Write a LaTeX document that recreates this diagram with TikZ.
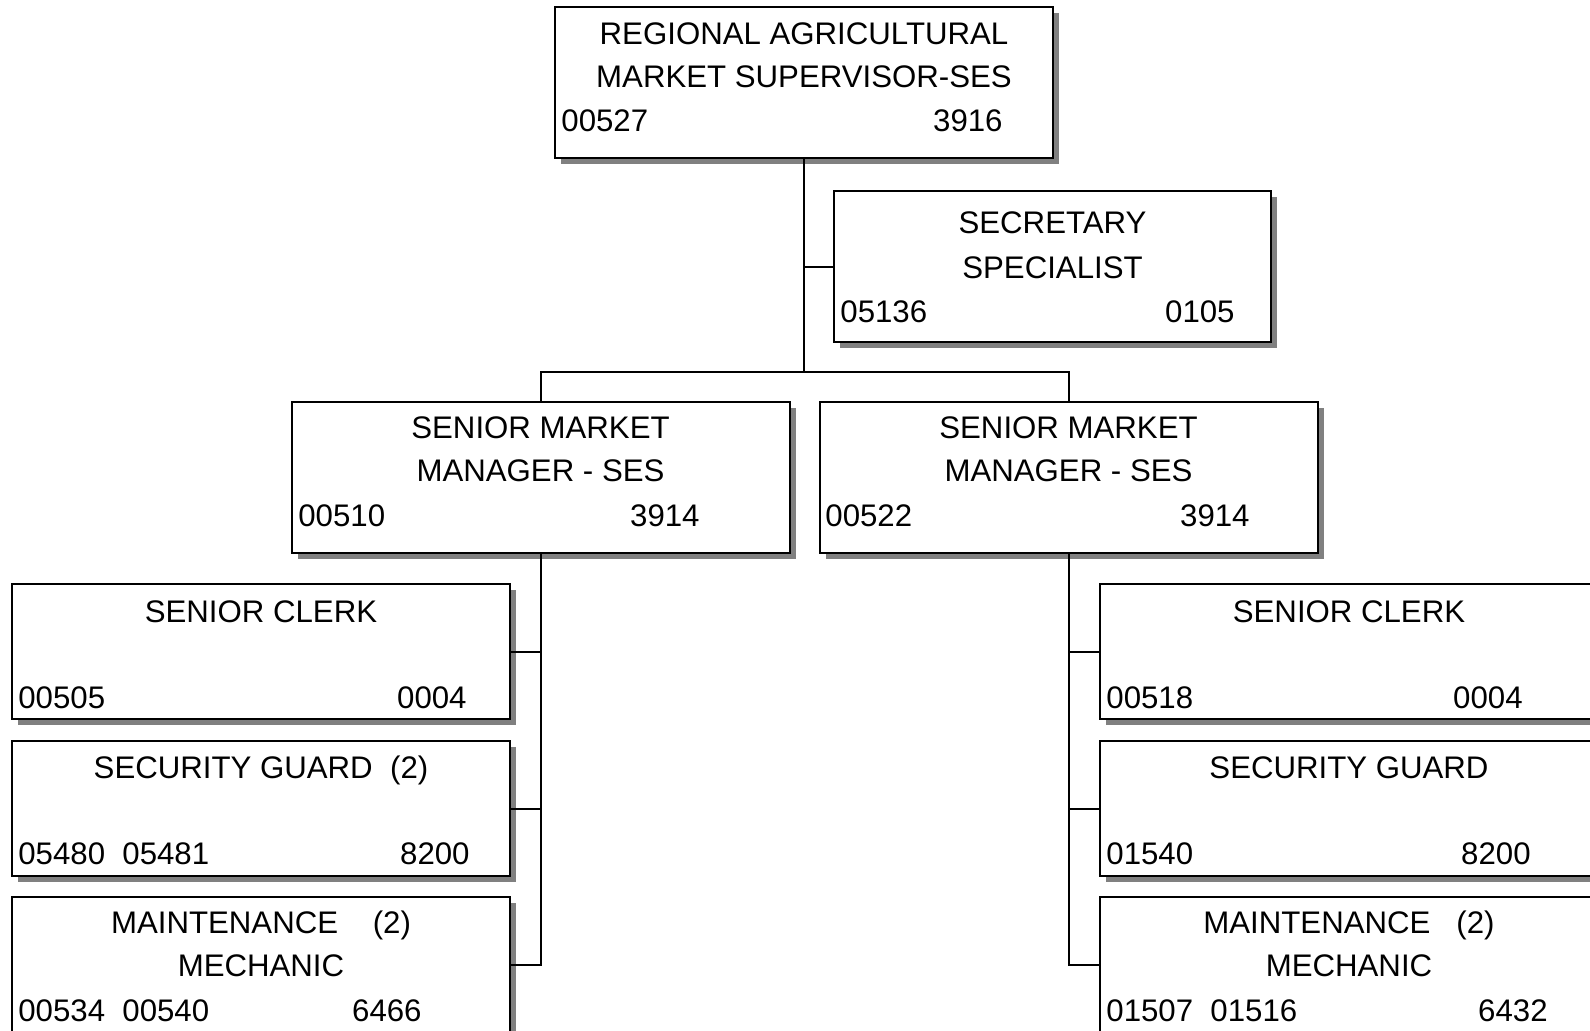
\documentclass[tikz,border=0pt]{standalone}
\usepackage{fontspec}
\setmainfont{Liberation Sans}
\usetikzlibrary{shadows}

\begin{document}
\begin{tikzpicture}[x=0.5pt, y=-0.5pt,
    post/.style={draw, rectangle, line width=1pt, fill=white, inner sep=0pt,
      minimum width=249pt, minimum height=75.5pt,
      drop shadow={shadow xshift=3pt, shadow yshift=-3pt, fill=black!50, opacity=1}},
    postlow/.style={post, minimum height=67.5pt},
    title/.style={inner sep=0pt, anchor=base, font=\fontsize{15.6}{18}\selectfont},
    codel/.style={title, anchor=base west},
    coder/.style={title, anchor=base east},
    link/.style={line width=1pt}]
  \useasboundingbox (0,0) rectangle (1590,1030);
  \clip (0,0) rectangle (1590,1030);

  % Supervisor
  \node[post] (sup) at (804,82.5) {};
  \node[title] (sup-l1) at (804,44) {REGIONAL AGRICULTURAL};
  \node[title] (sup-l2) at (804,87) {MARKET SUPERVISOR-SES};
  \node[codel] (sup-pos) at (561,131) {00527};
  \node[coder] (sup-cls) at (1003,131) {3916};

  % Secretary
  \node[post, minimum width=218.5pt] (sec) at (1052.5,266.5) {};
  \node[title] (sec-l1) at (1052.5,233) {SECRETARY};
  \node[title] (sec-l2) at (1052.5,278) {SPECIALIST};
  \node[codel] (sec-pos) at (840,322) {05136};
  \node[coder] (sec-cls) at (1235,322) {0105};

  % Market managers
  \node[post] (mgrA) at (540.5,477.5) {};
  \node[title] (mgrA-l1) at (540.5,438) {SENIOR MARKET};
  \node[title] (mgrA-l2) at (540.5,481.5) {MANAGER - SES};
  \node[codel] (mgrA-pos) at (298,526) {00510};
  \node[coder] (mgrA-cls) at (700,526) {3914};

  \node[post] (mgrB) at (1068.5,477.5) {};
  \node[title] (mgrB-l1) at (1068.5,438) {SENIOR MARKET};
  \node[title] (mgrB-l2) at (1068.5,481.5) {MANAGER - SES};
  \node[codel] (mgrB-pos) at (825,526) {00522};
  \node[coder] (mgrB-cls) at (1250,526) {3914};

  % Staff under first manager
  \node[postlow] (clerkA) at (261,651.5) {};
  \node[title] (clerkA-l1) at (261,622.5) {SENIOR CLERK};
  \node[codel] (clerkA-pos) at (18,708.5) {00505};
  \node[coder] (clerkA-cls) at (467,708.5) {0004};

  \node[postlow] (guardA) at (261,808.5) {};
  \node[title] (guardA-l1) at (261,778.5) {SECURITY GUARD~~(2)};
  \node[codel] (guardA-pos) at (18,864) {05480~~05481};
  \node[coder] (guardA-cls) at (470,864) {8200};

  \node[postlow] (mechA) at (261,964.5) {};
  \node[title] (mechA-l1) at (261,933.5) {MAINTENANCE~~~~(2)};
  \node[title] (mechA-l2) at (261,976) {MECHANIC};
  \node[codel] (mechA-pos) at (18,1021) {00534~~00540};
  \node[coder] (mechA-cls) at (422,1021) {6466};

  % Staff under second manager
  \node[postlow] (clerkB) at (1349,651.5) {};
  \node[title] (clerkB-l1) at (1349,622.5) {SENIOR CLERK};
  \node[codel] (clerkB-pos) at (1106,708.5) {00518};
  \node[coder] (clerkB-cls) at (1523,708.5) {0004};

  \node[postlow] (guardB) at (1349,808.5) {};
  \node[title] (guardB-l1) at (1349,778.5) {SECURITY GUARD};
  \node[codel] (guardB-pos) at (1106,864) {01540};
  \node[coder] (guardB-cls) at (1531,864) {8200};

  \node[postlow] (mechB) at (1349,964.5) {};
  \node[title] (mechB-l1) at (1349,933.5) {MAINTENANCE~~~(2)};
  \node[title] (mechB-l2) at (1349,976) {MECHANIC};
  \node[codel] (mechB-pos) at (1106,1021) {01507~~01516};
  \node[coder] (mechB-cls) at (1548,1021) {6432};

  % Reporting lines
  \coordinate (bar) at (804,372);
  \draw[link] (sup.south) -- (bar);
  \draw[link] (sec.west) -- (sec.west -| sup.south);
  \draw[link] (mgrA.north) |- (bar) -| (mgrB.north);

  \draw[link] (mgrA.south) |- (mechA.east);
  \draw[link] (clerkA.east) -- (clerkA.east -| mgrA.south);
  \draw[link] (guardA.east) -- (guardA.east -| mgrA.south);

  \draw[link] (mgrB.south) |- (mechB.west);
  \draw[link] (clerkB.west) -- (clerkB.west -| mgrB.south);
  \draw[link] (guardB.west) -- (guardB.west -| mgrB.south);
\end{tikzpicture}
\end{document}
